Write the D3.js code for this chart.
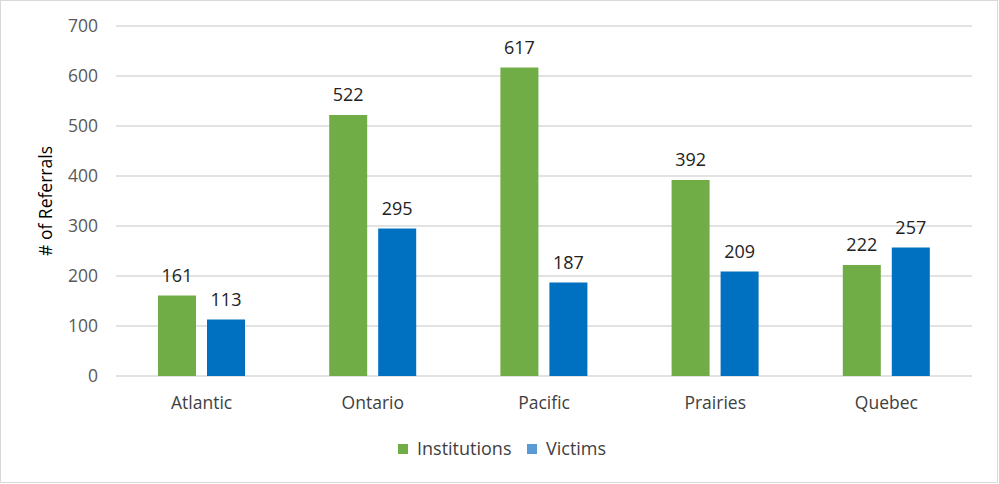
<!DOCTYPE html>
<html><head><meta charset="utf-8">
<script src="https://cdn.jsdelivr.net/npm/d3@7"></script>
<style>body{margin:0;background:#fff;} svg{display:block;}</style>
</head><body>
<svg id="c" width="999" height="484"></svg>
<script>
const categories = ["Atlantic","Ontario","Pacific","Prairies","Quebec"];
const seriesNames = ["Institutions","Victims"];
const institutions = [161,522,617,392,222];
const victims = [113,295,187,209,257];
const yTicks = [0,100,200,300,400,500,600,700];
const colors = ["#70AD47","#0070C0"];
const legendColors = ["#70AD47","#5B9BD5"];

const svg = d3.select("#c");
const font = "'Open Sans', 'Noto Sans', sans-serif";
svg.append("rect").attr("x",0.5).attr("y",0.5).attr("width",997).attr("height",482)
  .attr("fill","#fff").attr("stroke","#d9d9d9");

const m = {left:116, right:972, top:26, bottom:376};
const x = d3.scaleBand().domain(categories).range([m.left,m.right]);
const x1 = d3.scaleBand().domain(seriesNames).range([42,129]).paddingInner(11/49).paddingOuter(0);
const y = d3.scaleLinear().domain([0,700]).range([m.bottom,m.top]);

// gridlines
svg.append("g").selectAll("line").data(yTicks).join("line")
  .attr("x1",m.left).attr("x2",m.right)
  .attr("y1",d=>y(d)).attr("y2",d=>y(d))
  .attr("stroke","#d9d9d9").attr("stroke-width",1.3);

// y axis labels
const yAxis = d3.axisLeft(y).tickValues(yTicks).tickSize(0).tickPadding(18);
const gy = svg.append("g").attr("transform",`translate(${m.left},0)`).call(yAxis);
gy.select(".domain").remove();
gy.selectAll("text").attr("font-family",font).attr("font-size",17.5).attr("fill","#595959");

// x axis labels
const xAxis = d3.axisBottom(x).tickSize(0).tickPadding(21);
const gx = svg.append("g").attr("transform",`translate(0,${m.bottom})`).call(xAxis);
gx.select(".domain").remove();
gx.selectAll("text").attr("font-family",font).attr("font-size",17.5).attr("fill","#404040");

const data = categories.map((c,i)=>({cat:c, vals:[institutions[i],victims[i]]}));
const groups = svg.append("g").selectAll("g").data(data).join("g")
  .attr("transform",d=>`translate(${x(d.cat)},0)`);
groups.selectAll("rect").data(d=>d.vals.map((v,j)=>({s:seriesNames[j],v,j}))).join("rect")
  .attr("x",d=>x1(d.s)).attr("width",x1.bandwidth())
  .attr("y",d=>y(d.v)).attr("height",d=>y(0)-y(d.v))
  .attr("fill",d=>colors[d.j]);
groups.selectAll("text").data(d=>d.vals.map((v,j)=>({s:seriesNames[j],v,j}))).join("text")
  .attr("x",d=>x1(d.s)+x1.bandwidth()/2).attr("y",d=>y(d.v)-14)
  .attr("text-anchor","middle").attr("font-family",font).attr("font-size",18).attr("fill","#222")
  .text(d=>d.v);

// y title
svg.append("text").attr("transform","translate(52,201) rotate(-90)")
  .attr("text-anchor","middle").attr("font-family",font).attr("font-size",17.5).attr("fill","#000")
  .text("# of Referrals");

// legend
const legX = [398,527];
const lg = svg.append("g").selectAll("g").data(seriesNames).join("g")
  .attr("transform",(d,i)=>`translate(${legX[i]},449)`);
lg.append("rect").attr("x",0).attr("y",-5).attr("width",10).attr("height",10)
  .attr("fill",(d,i)=>legendColors[i]);
lg.append("text").attr("x",19).attr("y",0).attr("dy","0.35em")
  .attr("font-family",font).attr("font-size",18).attr("fill","#404040").text(d=>d);
</script>
</body></html>
